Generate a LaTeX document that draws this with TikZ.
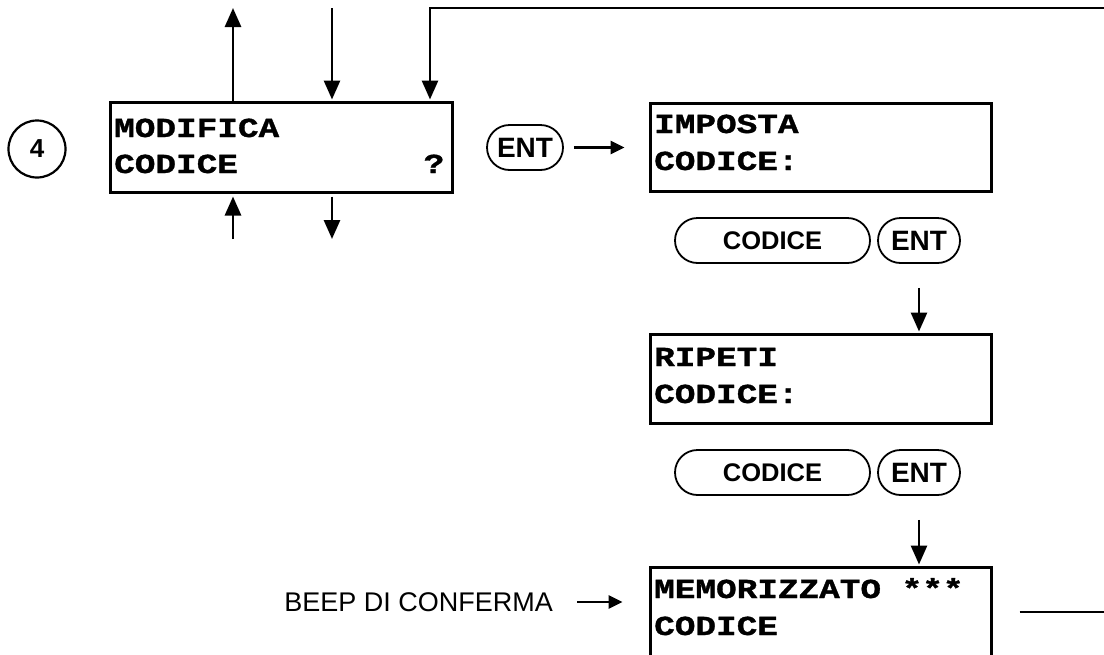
\documentclass[tikz,border=0pt]{standalone}
\usepackage{fontspec}
\setsansfont{Liberation Sans}
\newfontfamily\lcdfont[FakeStretch=1.25,BoldFeatures={FakeBold=1.2}]{Liberation Mono}
\usetikzlibrary{arrows.meta,shapes.misc}
\begin{document}
\begin{tikzpicture}[x=1pt,y=-1pt,
  lcdbox/.style={draw,line width=3pt,rectangle,inner sep=0pt,minimum width=341pt},
  lcdtxt/.style={anchor=base west,inner sep=0pt,font=\fontsize{27.5pt}{27.5pt}\selectfont\lcdfont\bfseries},
  pill/.style={draw,line width=1.8pt,rounded rectangle,inner sep=0pt,minimum height=45pt},
  entfont/.style={font=\fontsize{28pt}{28pt}\selectfont\sffamily\bfseries},
  codfont/.style={font=\fontsize{25.5pt}{25.5pt}\selectfont\sffamily\bfseries},
  arr/.style={line width=2.8pt,-{Triangle[length=19pt,width=16pt]}},
  harr/.style={line width=2.8pt,-{Triangle[length=14pt,width=13pt]}},
  plain/.style={line width=2.8pt},
  stepnum/.style={draw,circle,line width=2.2pt,inner sep=0pt,minimum size=57pt,font=\fontsize{26pt}{26pt}\selectfont\sffamily\bfseries}]
\useasboundingbox (0,0) rectangle (1104,654);
\clip (0,0) rectangle (1104,654);

% step number
\node[stepnum] (n4) at (37,149) {4};

% LCD boxes
\node[lcdbox,minimum width=342pt,minimum height=90pt] (b1) at (281,147) {};
\node[lcdtxt] (b1a) at (114,137) {MODIFICA};
\node[lcdtxt] (b1b) at (114,173) {CODICE};
\node[lcdtxt,anchor=base] (b1q) at (434,173) {?};

\node[lcdbox,minimum height=88pt] (b2) at (820.5,147) {};
\node[lcdtxt] (b2a) at (654,133) {IMPOSTA};
\node[lcdtxt] (b2b) at (654,170) {CODICE:};

\node[lcdbox,minimum height=89pt] (b3) at (820.5,378.5) {};
\node[lcdtxt] (b3a) at (654,366) {RIPETI};
\node[lcdtxt] (b3b) at (654,403) {CODICE:};

\node[lcdbox,minimum height=110pt] (b4) at (820.5,622) {};
\node[lcdtxt] (b4a) at (654,598) {MEMORIZZATO ***};
\node[lcdtxt] (b4b) at (654,635) {CODICE};

% key pills
\node[pill,entfont,minimum width=76pt] (ent1) at (525,147.5) {ENT};
\node[pill,codfont,minimum width=195pt] (cod1) at (772.5,240.5) {CODICE};
\node[pill,entfont,minimum width=82pt] (ent2) at (919,240.5) {ENT};
\node[pill,codfont,minimum width=195pt] (cod2) at (772.5,472.5) {CODICE};
\node[pill,entfont,minimum width=82pt] (ent3) at (919,472.5) {ENT};

% beep label
\node[anchor=east,inner sep=0pt,font=\fontsize{27pt}{27pt}\selectfont\sffamily] (beep) at (553,602) {BEEP DI CONFERMA};

% free ends
\coordinate (tup) at (233,8);
\coordinate (tdn) at (332,8);
\coordinate (tm) at (430,8);
\coordinate (tr) at (1104,8);
\coordinate (bup) at (233,239);
\coordinate (bdn) at (332,239);
\coordinate (rr) at (1104,612);

% connectors
\draw[arr] (b1.north -| tup) -- (tup);
\draw[arr] (tdn) -- ([yshift=1pt]b1.north -| tdn);
\draw[arr] (tr) -- (tm) -- ([yshift=1pt]b1.north -| tm);
\draw[arr] (bup) -- ([yshift=-3pt]b1.south -| bup);
\draw[arr] ([yshift=-3pt]b1.south -| bdn) -- (bdn);
\draw[harr] ([xshift=10pt]ent1.east) -- ([xshift=-24pt]b2.west |- ent1.east);
\draw[arr] ([yshift=-24pt]ent2.south) -- ([yshift=1pt]ent2.south |- b3.north);
\draw[arr] ([yshift=-24pt]ent3.south) -- ([yshift=1pt]ent3.south |- b4.north);
\draw[harr] ([xshift=24pt]beep.east) -- ([xshift=-26pt]b4.west |- beep.east);
\draw[plain] ([xshift=27pt]b4.east |- rr) -- (rr);
\end{tikzpicture}
\end{document}
